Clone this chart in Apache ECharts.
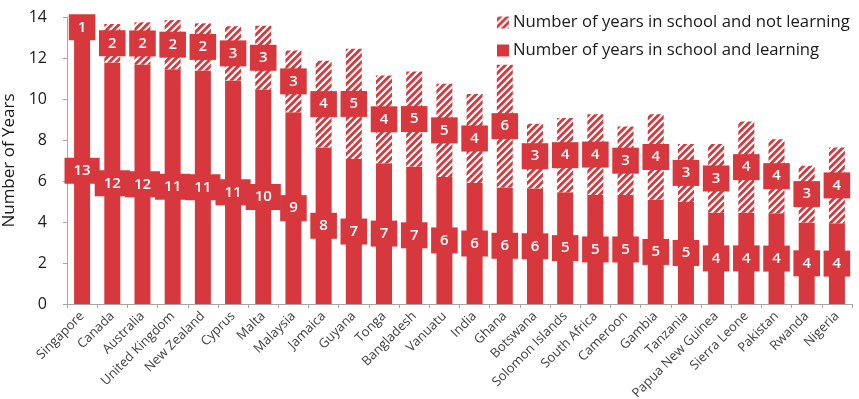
<!DOCTYPE html>
<html><head><meta charset="utf-8">
<script src="https://cdn.jsdelivr.net/npm/echarts@6/dist/echarts.min.js"></script>
<style>html,body{margin:0;padding:0;background:#fff}#c{width:859px;height:399px}</style>
</head><body><div id="c"></div>
<script>
var countries = ['Singapore','Canada','Australia','United Kingdom','New Zealand','Cyprus','Malta','Malaysia','Jamaica','Guyana','Tonga','Bangladesh','Vanuatu','India','Ghana','Botswana','Solomon Islands','South Africa','Cameroon','Gambia','Tanzania','Papua New Guinea','Sierra Leone','Pakistan','Rwanda','Nigeria'];
var learning = [13.0,11.78,11.68,11.45,11.39,10.9,10.45,9.35,7.63,7.07,6.87,6.7,6.2,5.9,5.68,5.63,5.45,5.32,5.32,5.08,4.98,4.45,4.45,4.43,3.97,3.94];
var notLearning = [1.0,1.88,2.06,2.4,2.3,2.65,3.12,3.02,4.24,5.38,4.28,4.64,4.54,4.35,5.99,3.16,3.62,3.94,3.34,4.18,2.83,3.35,4.45,3.61,2.78,3.69];
var yTicks = [0,2,4,6,8,10,12,14];
var seriesNames = ['Number of years in school and not learning','Number of years in school and learning'];

var RED = '#D6383D';
function hatch(){
  var s = 7, cv = document.createElement('canvas');
  cv.width = s; cv.height = s;
  var g = cv.getContext('2d');
  g.fillStyle = RED; g.fillRect(0,0,s,s);
  g.strokeStyle = '#ffffff'; g.lineWidth = 2.2;
  g.beginPath();
  g.moveTo(-1, s+1); g.lineTo(s+1, -1);
  g.moveTo(-1, 1); g.lineTo(1, -1);
  g.moveTo(s-1, s+1); g.lineTo(s+1, s-1);
  g.stroke();
  return {image: cv, repeat: 'repeat'};
}
var pattern = hatch();

var labelStyle = {
  show: true, position: 'inside', color: '#fff', fontSize: 15, fontFamily: 'Open Sans', fontWeight: 600,
  backgroundColor: RED, padding: [5, 9, 5, 9], lineHeight: 16,
  formatter: function(p){ return Math.round(p.value); }
};

var chart = echarts.init(document.getElementById('c'), null, {renderer: 'canvas'});
chart.setOption({
  animation: false,
  grid: {left: 67, right: 7, top: 17, bottom: 95, containLabel: false, outerBoundsMode: 'none'},
  legend: {
    orient: 'vertical', left: 492, top: 9, itemGap: 11,
    itemWidth: 12, itemHeight: 12, icon: 'rect',
    data: [seriesNames[0], seriesNames[1]],
    textStyle: {fontSize: 16.7, color: '#1a1a1a', fontFamily: 'Open Sans', padding: [0,0,0,-1]}
  },
  xAxis: {
    type: 'category', data: countries,
    axisLine: {lineStyle: {color: '#a6a6a6'}},
    axisTick: {show: true, length: 4, lineStyle: {color: '#a6a6a6'}},
    axisLabel: {rotate: 45, fontSize: 13, color: '#404040', fontFamily: 'Open Sans', margin: 10, interval: 0}
  },
  yAxis: {
    type: 'value', min: yTicks[0], max: yTicks[yTicks.length-1], interval: 2,
    name: 'Number of Years', nameLocation: 'middle', nameGap: 40,
    nameTextStyle: {fontSize: 17, color: '#1a1a1a', fontFamily: 'Open Sans'},
    splitLine: {show: false},
    axisLine: {show: true, lineStyle: {color: '#a6a6a6'}},
    axisTick: {show: true, length: 4, lineStyle: {color: '#a6a6a6'}},
    axisLabel: {fontSize: 16, color: '#1a1a1a', fontFamily: 'Open Sans', margin: 20}
  },
  series: [
    {name: seriesNames[1], type: 'bar', stack: 's', data: learning, barWidth: 16,
     itemStyle: {color: RED}, label: labelStyle},
    {name: seriesNames[0], type: 'bar', stack: 's', data: notLearning, barWidth: 16,
     itemStyle: {color: pattern}, label: labelStyle}
  ]
});
</script></body></html>
